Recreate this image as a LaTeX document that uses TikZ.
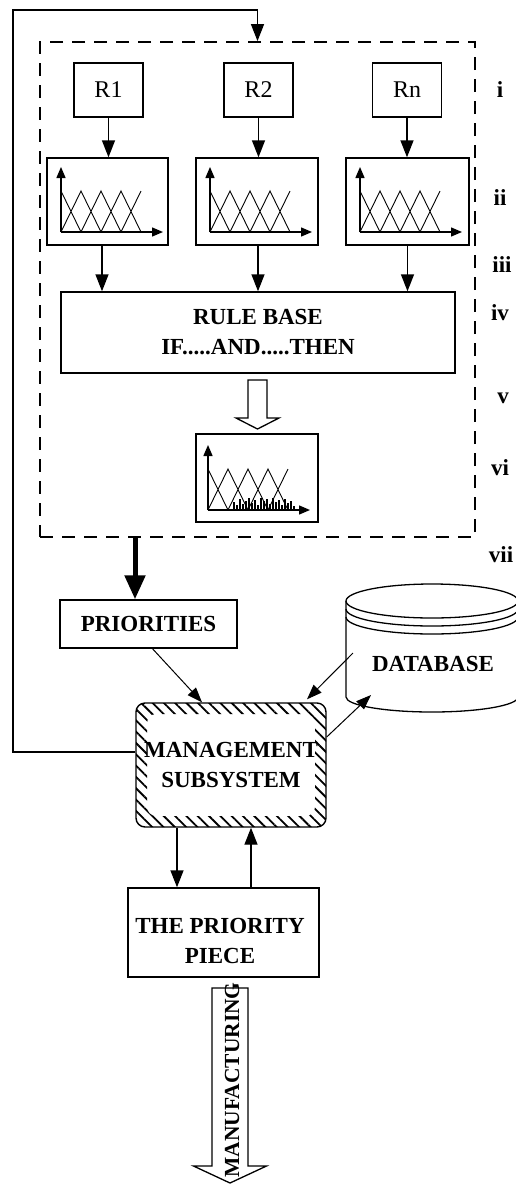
\documentclass[tikz,border=0pt]{standalone}
\usepackage{fontspec}
\setmainfont{Liberation Serif}
\usetikzlibrary{arrows.meta,patterns.meta}
\tikzset{
  mfplot/.pic={
    \draw[line width=1.4pt,-{Triangle[width=9pt,length=11pt]}] (0,0) -- (0,-65);
    \draw[line width=1.4pt,-{Triangle[width=9pt,length=11pt]}] (0,0) -- (102,0);
    \draw[line width=0.9pt] (0,-41) -- (20,0) (0,0) -- (20,-41) -- (40,0)
      (20,0) -- (40,-41) -- (60,0) (40,0) -- (60,-41) -- (80,0) (60,0) -- (80,-41);
  }
}
\begin{document}
\begin{tikzpicture}[x=1pt,y=-1pt,
  box/.style={draw, line width=1.4pt, inner sep=0pt},
  lbl/.style={font=\fontsize{23}{30}\selectfont\bfseries, align=center, inner sep=0pt},
  rlbl/.style={font=\fontsize{24}{28}\selectfont},
  arr/.style={line width=1.4pt, -{Triangle[width=13pt,length=17pt]}},
  sarr/.style={line width=1pt, -{Triangle[width=11pt,length=15pt]}},
  thickarr/.style={line width=5pt, -{Triangle[width=20pt,length=24pt]}},
  hollow/.style={line width=1.3pt, fill=white}]
\useasboundingbox (0,0) rectangle (515,1184);

% dashed fuzzy block
\node[draw, dash pattern=on 13pt off 9pt, line width=1.8pt, minimum width=435pt, minimum height=495pt, inner sep=0pt] (dbox) at (257.5,289.5) {};

% inputs
\node[box, rlbl, minimum width=69pt, minimum height=54pt] (r1) at (108.5,90) {R1};
\node[box, rlbl, minimum width=69pt, minimum height=54pt] (r2) at (258.5,90) {R2};
\node[box, rlbl, minimum width=69pt, minimum height=54pt] (rn) at (407,90) {Rn};

% membership functions
\node[box, minimum width=121pt, minimum height=87pt] (mf1) at (107.5,201.5) {};
\node[box, minimum width=122pt, minimum height=87pt] (mf2) at (257,201.5) {};
\node[box, minimum width=123pt, minimum height=87pt] (mf3) at (407.5,201.5) {};
\pic at (61,232) {mfplot};
\pic at (210,232) {mfplot};
\pic at (360,232) {mfplot};

% rule base
\node[box, lbl, minimum width=394pt, minimum height=81pt] (rb) at (258,332.5) {RULE BASE\\IF.....AND.....THEN};

% output
\node[box, minimum width=122pt, minimum height=88pt] (out) at (257,478) {};
\pic at (208,510) {mfplot};
\foreach \x/\h in {234/8,237/5,240/11,243/6,246/9,249/12,252/7,255/10,258/5,261/12,264/9,267/11,270/6,273/12,276/8,279/10,282/5,285/11,288/7,291/9,294/4}
  \draw[line width=1.7pt] (\x,510) -- (\x,510-\h);

% arrows inside the block
\draw[arr] (r1.south) -- (r1.south |- mf1.north);
\draw[arr] (r2.south) -- (r2.south |- mf2.north);
\draw[arr] (rn.south) -- (rn.south |- mf3.north);
\draw[arr] ([xshift=-5.5pt]mf1.south) -- ([xshift=-5.5pt]mf1.south |- rb.north);
\draw[arr] ([xshift=1pt]mf2.south) -- ([xshift=1pt]mf2.south |- rb.north);
\draw[arr] (mf3.south) -- (mf3.south |- rb.north);
\coordinate (ha) at (257.5,380);
\draw[hollow] (ha) ++(-9.5,0) -- ++(0,38) -- ++(-12,0) -- ++(21.5,11) -- ++(21.5,-11) -- ++(-12,0) -- ++(0,-38) -- cycle;

% labels
\node[lbl] (li) at (500,90) {i};
\node[lbl] (lii) at (500,198) {ii};
\node[lbl] (liii) at (502,265) {iii};
\node[lbl] (liv) at (500,313) {iv};
\node[lbl] (lv) at (503,398) {v};
\node[lbl] (lvi) at (500,468) {vi};
\node[lbl] (lvii) at (501,555) {vii};

% priorities
\node[box, lbl, minimum width=177pt, minimum height=48pt] (pri) at (148.5,624) {PRIORITIES};
\coordinate (thk) at (135,537);
\draw[thickarr] (thk) -- (thk |- pri.north);

% database
\draw[line width=1.3pt] (432,601) ellipse [x radius=86pt, y radius=17pt];
\draw[line width=1.3pt] (346,609) arc[start angle=180, end angle=360, x radius=86pt, y radius=17pt];
\draw[line width=1.3pt] (346,617) arc[start angle=180, end angle=360, x radius=86pt, y radius=17pt];
\draw[line width=1.3pt] (346,601) -- (346,697) arc[start angle=180, end angle=360, x radius=86pt, y radius=15pt];
\node[lbl] (dbt) at (433,664) {DATABASE};
\coordinate (dbout) at (353,653);
\coordinate (dbin) at (371,695);

% management subsystem
\fill[pattern={Lines[angle=-45,distance=8pt,line width=1.8pt]}, even odd rule, rounded corners=9pt]
  (136,703) rectangle (326,827) (147,714) rectangle (315,816);
\node[box, lbl, rounded corners=9pt, minimum width=190pt, minimum height=124pt] (mgmt) at (231,765) {MANAGEMENT\\SUBSYSTEM};

\draw[sarr] ([xshift=4pt]pri.south) -- ([xshift=-29pt]mgmt.north);
\draw[sarr] (dbout) -- ([xshift=76pt,yshift=3pt]mgmt.north);
\draw[sarr] ([yshift=28pt]mgmt.east) -- (dbin);

% feedback loop
\coordinate (fbl) at (13,10);
\draw[arr] ([yshift=13pt]mgmt.west) -| (fbl) -| (dbox.north);

% priority piece
\node[box, minimum width=191pt, minimum height=89pt] (piece) at (223.5,932.5) {};
\node[lbl] (piecet) at (220,941) {THE PRIORITY\\PIECE};
\draw[arr] ([xshift=-54pt]mgmt.south) -- ([xshift=-54pt]mgmt.south |- piece.north);
\draw[arr] ([xshift=20pt]mgmt.south |- piece.north) -- ([xshift=20pt]mgmt.south);

% manufacturing arrow
\coordinate (ma) at (230,988);
\draw[hollow] (ma) ++(-18,0) -- ++(0,178) -- ++(-18.5,0) -- ++(36.5,17) -- ++(36.5,-17) -- ++(-18.5,0) -- ++(0,-178) -- cycle;
\node[lbl, font=\fontsize{21.5}{26}\selectfont\bfseries, rotate=90] (manu) at (232,1080) {MANUFACTURING};
\end{tikzpicture}
\end{document}
